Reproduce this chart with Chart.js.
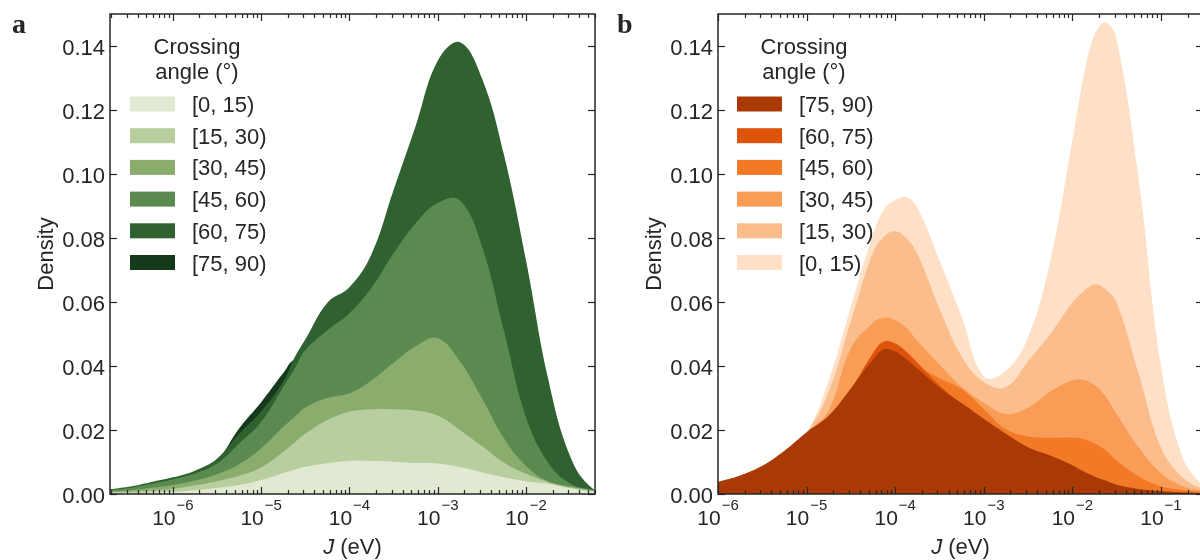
<!DOCTYPE html>
<html>
<head>
<meta charset="utf-8">
<title>Crossing angle density</title>
<script src="https://cdn.jsdelivr.net/npm/chart.js@4.4.1/dist/chart.umd.min.js"></script>
<style>
  html, body { margin: 0; padding: 0; background: #fff; width: 1200px; height: 560px; overflow: hidden; }
  .panel { position: absolute; top: 0; }
  #panelA { left: 0; }
  #panelB { left: 600px; }
</style>
</head>
<body>
<div class="panel" id="panelA"><canvas id="chartA" width="600" height="560"></canvas></div>
<div class="panel" id="panelB"><canvas id="chartB" width="620" height="560"></canvas></div>
<script>
// ---- panel a: J sample points (eV) and densities per crossing-angle bin ----
const jA = [1.78e-7, 3.16e-7, 5.62e-7, 1e-6, 1.78e-6, 3.16e-6, 5.62e-6, 1e-5, 1.78e-5, 2.37e-5,
  3.16e-5, 5.62e-5, 1e-4, 1.78e-4, 3.16e-4, 5.62e-4, 1e-3, 1.78e-3, 3.16e-3, 5.62e-3,
  1e-2, 1.78e-2, 3.16e-2, 5.62e-2, 1e-1];
const a0to15 = [0.0003, 0.0003, 0.0005, 0.0007, 0.0012, 0.0019, 0.0028, 0.0044, 0.0065, 0.0076,
  0.0085, 0.0096, 0.0103, 0.0103, 0.0101, 0.0097, 0.0095, 0.0084, 0.0068, 0.0052,
  0.0040, 0.0032, 0.0018, 0.0008, 0.0002];
const a15to30 = [0.0006, 0.0007, 0.0011, 0.0016, 0.0027, 0.0040, 0.0057, 0.0083, 0.0132, 0.0160,
  0.0188, 0.0231, 0.0257, 0.0265, 0.0265, 0.0261, 0.0245, 0.0200, 0.0150, 0.0098,
  0.0063, 0.0037, 0.0020, 0.0010, 0.0003];
const a30to45 = [0.0009, 0.0012, 0.0019, 0.0028, 0.0042, 0.0062, 0.0093, 0.0143, 0.0210, 0.0240,
  0.0270, 0.0300, 0.0315, 0.0355, 0.0410, 0.0462, 0.0487, 0.0415, 0.0300, 0.0174,
  0.0087, 0.0040, 0.0024, 0.0012, 0.0004];
const a45to60 = [0.0012, 0.0019, 0.0031, 0.0046, 0.0064, 0.0095, 0.0158, 0.0225, 0.0335, 0.0390,
  0.0450, 0.0512, 0.0565, 0.0645, 0.0752, 0.0846, 0.0910, 0.0918, 0.0775, 0.0510,
  0.0240, 0.0098, 0.0033, 0.0014, 0.0005];
const a60to75 = [0.0014, 0.0023, 0.0037, 0.0052, 0.0073, 0.0110, 0.0188, 0.0258, 0.0352, 0.0425,
  0.0483, 0.0598, 0.0646, 0.0750, 0.0950, 0.1150, 0.1354, 0.1412, 0.1300, 0.1060,
  0.0730, 0.0360, 0.0118, 0.0018, 0.0004];
const a75to90 = [0.0012, 0.0020, 0.0033, 0.0048, 0.0068, 0.0106, 0.0205, 0.0287, 0.0378, 0.0418,
  0.0390, 0.0320, 0.0260, 0.0210, 0.0170, 0.0135, 0.0105, 0.0080, 0.0060, 0.0042,
  0.0027, 0.0016, 0.0008, 0.0004, 0.0002];

// ---- panel b ----
const jB = [1e-6, 1.78e-6, 3.16e-6, 5.62e-6, 1e-5, 1.78e-5, 3.16e-5, 5.62e-5, 7.5e-5, 1e-4,
  1.33e-4, 1.78e-4, 3.16e-4, 5.62e-4, 1e-3, 1.78e-3, 3.16e-3, 5.62e-3, 1e-2, 1.33e-2,
  1.78e-2, 2.37e-2, 3.16e-2, 5.62e-2, 0.1, 0.178, 0.316];
const b75to90 = [0.0038, 0.0058, 0.0088, 0.0135, 0.0193, 0.0245, 0.0330, 0.0420, 0.0452, 0.0445,
  0.0422, 0.0392, 0.0333, 0.0284, 0.0235, 0.0188, 0.0146, 0.0120, 0.0090, 0.0071,
  0.0055, 0.0042, 0.0029, 0.0016, 0.0009, 0.0005, 0.0003];
const b60to75 = [0.0035, 0.0055, 0.0085, 0.0132, 0.0190, 0.0242, 0.0328, 0.0440, 0.0477, 0.0470,
  0.0445, 0.0410, 0.0340, 0.0280, 0.0232, 0.0185, 0.0143, 0.0117, 0.0087, 0.0068,
  0.0052, 0.0040, 0.0027, 0.0014, 0.0008, 0.0004, 0.0002];
const b45to60 = [0.0033, 0.0052, 0.0082, 0.0128, 0.0186, 0.0238, 0.0320, 0.0410, 0.0440, 0.0440,
  0.0425, 0.0400, 0.0362, 0.0328, 0.0265, 0.0202, 0.0180, 0.0176, 0.0176, 0.0172,
  0.0158, 0.0137, 0.0105, 0.0055, 0.0024, 0.0012, 0.0006];
const b30to45 = [0.0036, 0.0056, 0.0086, 0.0132, 0.0191, 0.0262, 0.0455, 0.0535, 0.0551, 0.0543,
  0.0520, 0.0478, 0.0405, 0.0335, 0.0285, 0.0250, 0.0270, 0.0320, 0.0355, 0.0356,
  0.0340, 0.0305, 0.0250, 0.0145, 0.0065, 0.0024, 0.0008];
const b15to30 = [0.0034, 0.0054, 0.0084, 0.0129, 0.0191, 0.0320, 0.0540, 0.0755, 0.0805, 0.0821,
  0.0800, 0.0750, 0.0580, 0.0430, 0.0350, 0.0334, 0.0415, 0.0500, 0.0598, 0.0633,
  0.0655, 0.0640, 0.0598, 0.0375, 0.0145, 0.0050, 0.0012];
const b0to15 = [0.0035, 0.0055, 0.0085, 0.0130, 0.0192, 0.0355, 0.0585, 0.0810, 0.0890, 0.0918,
  0.0928, 0.0895, 0.0730, 0.0555, 0.0368, 0.0385, 0.0490, 0.0728, 0.1105, 0.1300,
  0.1435, 0.1474, 0.1420, 0.0980, 0.0400, 0.0110, 0.0015];

// legend order = drawing order (first entry sits in front)
const binsA = ['[0, 15)', '[15, 30)', '[30, 45)', '[45, 60)', '[60, 75)', '[75, 90)'];
const greens = ['#e1e9d3', '#b8ce9f', '#8aad6e', '#5a8a50', '#2f6131', '#143a19'];
const binsB = ['[75, 90)', '[60, 75)', '[45, 60)', '[30, 45)', '[15, 30)', '[0, 15)'];
const oranges = ['#a93a06', '#de540b', '#f27a26', '#f99c56', '#fbbd8b', '#fde0c6'];

const yTicks = [0, 0.02, 0.04, 0.06, 0.08, 0.10, 0.12, 0.14];
const yTickLabels = ['0.00', '0.02', '0.04', '0.06', '0.08', '0.10', '0.12', '0.14'];
const decadesA = [-6, -5, -4, -3, -2];
const decadesB = [-6, -5, -4, -3, -2, -1];

const ink = '#262626';
const sans = '"Liberation Sans", Arial, sans-serif';

function line(ctx, x1, y1, x2, y2) {
  ctx.beginPath();
  ctx.moveTo(x1, y1);
  ctx.lineTo(x2, y2);
  ctx.stroke();
}

// matplotlib-like frame: inward ticks on all sides, labels, titles, legend
const axisFrame = {
  id: 'axisFrame',
  afterDraw(chart, args, o) {
    const { ctx, chartArea: a } = chart;
    const x = chart.scales.x, y = chart.scales.y;
    ctx.save();
    ctx.strokeStyle = ink;
    ctx.fillStyle = ink;

    // x ticks, majors at decades and minors at 2..9
    ctx.lineWidth = 1.2;
    const lo = Math.floor(Math.log10(x.min)), hi = Math.ceil(Math.log10(x.max));
    for (let d = lo; d <= hi; d++) {
      for (let k = 1; k <= 9; k++) {
        const v = k * Math.pow(10, d);
        if (v < x.min || v > x.max) continue;
        const px = Math.round(x.getPixelForValue(v)) + 0.5;
        const len = k === 1 ? 7 : 4;
        line(ctx, px, a.bottom, px, a.bottom - len);
        line(ctx, px, a.top, px, a.top + len);
      }
    }
    yTicks.forEach(v => {
      const py = Math.round(y.getPixelForValue(v)) + 0.5;
      line(ctx, a.left, py, a.left + 7, py);
      line(ctx, a.right, py, a.right - 7, py);
    });

    ctx.lineWidth = 1.5;
    ctx.strokeRect(a.left, a.top, a.right - a.left, a.bottom - a.top);

    // y tick labels
    ctx.font = '22px ' + sans;
    ctx.textAlign = 'right';
    ctx.textBaseline = 'alphabetic';
    yTicks.forEach((v, i) => {
      ctx.fillText(yTickLabels[i], a.left - 5, y.getPixelForValue(v) + 8.5);
    });

    // x tick labels as 10 with a raised exponent
    o.decades.forEach(e => {
      const px = x.getPixelForValue(Math.pow(10, e));
      const exp = '\u2212' + Math.abs(e);
      ctx.font = '21px ' + sans;
      const wBase = ctx.measureText('10').width;
      ctx.font = '15px ' + sans;
      const wExp = ctx.measureText(exp).width;
      const x0 = px - (wBase + 1 + wExp) / 2;
      ctx.textAlign = 'left';
      ctx.font = '21px ' + sans;
      ctx.fillText('10', x0, 525);
      ctx.font = '15px ' + sans;
      ctx.fillText(exp, x0 + wBase + 1, 510);
    });

    // x title: J (eV), J in italics
    const cx = (a.left + a.right) / 2;
    ctx.font = 'italic 22px ' + sans;
    const wJ = ctx.measureText('J').width;
    ctx.font = '22px ' + sans;
    const wRest = ctx.measureText(' (eV)').width;
    const tx = cx - (wJ + wRest) / 2;
    ctx.textAlign = 'left';
    ctx.font = 'italic 22px ' + sans;
    ctx.fillText('J', tx, 554);
    ctx.font = '22px ' + sans;
    ctx.fillText(' (eV)', tx + wJ, 554);

    // y title
    ctx.save();
    ctx.translate(a.left - 57, (a.top + a.bottom) / 2);
    ctx.rotate(-Math.PI / 2);
    ctx.textAlign = 'center';
    ctx.fillText('Density', 0, 0);
    ctx.restore();

    // panel letter
    ctx.font = 'bold 28px "Liberation Serif", "Times New Roman", serif';
    ctx.textAlign = 'left';
    ctx.fillText(o.letter, o.letterX, 33);

    // legend
    ctx.font = '22px ' + sans;
    ctx.textAlign = 'center';
    ctx.fillText('Crossing', o.legendX + 60, 54);
    ctx.fillText('angle (\u00b0)', o.legendX + 60, 79);
    ctx.textAlign = 'left';
    chart.data.datasets.forEach((ds, i) => {
      const rowY = 104 + i * 31.7;
      ctx.fillStyle = ds.backgroundColor;
      ctx.fillRect(o.legendX - 7, rowY - 7.5, 45, 15);
      ctx.fillStyle = ink;
      ctx.fillText(ds.label, o.legendX + 55, rowY + 8);
    });
    ctx.restore();
  }
};

function makeDatasets(xs, series, labels, colors) {
  return series.map((vals, i) => ({
    label: labels[i],
    data: xs.map((j, k) => ({ x: j, y: vals[k] })),
    backgroundColor: colors[i],
    borderColor: colors[i],
    borderWidth: 0,
    pointRadius: 0,
    fill: 'origin',
    tension: 0.4
  }));
}

function makeChart(id, datasets, xMin, xMax, padding, frame) {
  return new Chart(document.getElementById(id), {
    type: 'line',
    data: { datasets },
    options: {
      responsive: false,
      animation: false,
      events: [],
      layout: { padding },
      plugins: {
        legend: { display: false },
        tooltip: { enabled: false },
        axisFrame: frame
      },
      scales: {
        x: { type: 'logarithmic', min: xMin, max: xMax, bounds: 'data', display: false },
        y: { type: 'linear', min: 0, max: 0.15, bounds: 'data', display: false }
      }
    },
    plugins: [axisFrame]
  });
}

makeChart('chartA',
  makeDatasets(jA, [a0to15, a15to30, a30to45, a45to60, a60to75, a75to90], binsA, greens),
  1.94e-7, 0.0604,
  { left: 110, right: 5, top: 14, bottom: 66 },
  { letter: 'a', letterX: 12, legendX: 137, decades: decadesA });

makeChart('chartB',
  makeDatasets(jB, [b75to90, b60to75, b45to60, b30to45, b15to30, b0to15], binsB, oranges),
  1e-6, 0.298,
  { left: 118, right: 17, top: 14, bottom: 66 },
  { letter: 'b', letterX: 17, legendX: 144, decades: decadesB });
</script>
</body>
</html>
